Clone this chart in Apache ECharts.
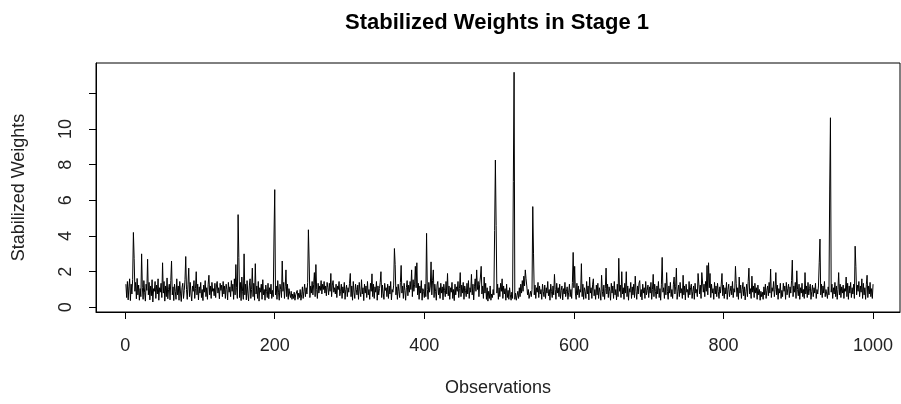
<!DOCTYPE html>
<html>
<head>
<meta charset="utf-8">
<script src="https://cdn.jsdelivr.net/npm/echarts@6/dist/echarts.min.js"></script>
<style>
html,body{margin:0;padding:0;background:#fff;}
#chart{width:901px;height:404px;}
</style>
</head>
<body>
<div id="chart"></div>
<script>
var chartTitle = 'Stabilized Weights in Stage 1';
var xTitle = 'Observations';
var yTitle = 'Stabilized Weights';
var xTicks = [0, 200, 400, 600, 800, 1000];
var xTickLabels = ['0', '200', '400', '600', '800', '1000'];
var yTicks = [0, 2, 4, 6, 8, 10, 12];
var yTickLabels = ['0', '2', '4', '6', '8', '10', ''];

var weights = [
1.3,0.55,1.45,0.42,1.15,1.6,0.38,1.3,0.75,1.55,
4.2,2.75,0.9,1.4,0.48,1.62,0.7,1.25,0.4,1.05,
0.6,3.0,1.1,0.45,1.5,0.85,0.35,1.3,0.95,2.7,
0.7,1.4,0.42,1.2,0.65,1.55,0.3,1.05,0.9,1.45,
0.5,1.25,0.75,1.6,0.4,1.1,0.85,1.35,0.55,2.5,
0.8,1.45,0.35,1.2,0.6,1.65,0.48,1.0,1.3,0.42,
1.5,2.6,0.7,1.15,0.38,1.3,0.9,0.45,1.6,0.7,
1.2,0.4,1.45,0.8,0.33,1.1,1.35,0.5,0.95,1.55,
2.85,1.0,0.45,1.3,2.2,0.6,1.4,0.75,0.36,1.2,
0.9,1.5,0.5,1.05,2.0,0.7,1.3,0.42,1.15,0.8,
1.4,0.55,1.0,0.38,1.25,0.85,1.5,0.6,1.1,0.45,
1.3,1.8,0.7,1.2,0.5,1.4,0.9,1.05,0.65,1.35,
0.55,1.2,1.45,0.8,1.1,0.48,1.35,0.95,1.25,0.6,
1.45,0.75,1.2,0.5,1.3,1.0,0.42,1.4,0.85,1.15,
0.6,1.5,0.9,1.3,0.45,1.6,0.7,2.4,1.1,0.5,
5.2,2.8,0.55,1.4,0.38,1.7,0.9,0.45,3.0,0.7,
1.3,0.42,1.5,0.8,0.36,1.2,1.6,0.5,1.0,2.2,
0.6,1.35,0.4,2.45,0.75,1.2,0.5,1.45,0.35,1.1,
0.85,1.3,0.45,1.55,0.7,1.0,0.4,1.25,0.9,0.55,
1.35,0.48,1.1,0.75,1.3,0.5,0.95,0.6,4.0,6.6,
0.7,1.2,0.45,1.5,0.85,0.4,1.3,1.0,0.55,2.6,
0.9,1.4,0.5,1.15,2.1,0.6,1.3,0.45,1.05,0.75,
0.55,0.9,0.45,0.75,0.5,0.85,0.4,0.7,0.6,0.95,
0.45,0.8,0.55,1.0,0.4,0.7,1.15,0.5,0.9,1.3,
0.6,1.1,0.75,1.4,4.35,2.6,0.55,1.2,0.8,1.45,
0.7,1.3,1.95,0.6,2.4,1.0,0.5,1.35,0.8,1.2,
0.95,1.5,0.75,1.3,1.0,1.45,0.8,1.2,0.65,1.4,
1.1,0.7,1.35,0.9,1.9,0.6,1.25,1.5,0.85,1.1,
0.75,1.3,0.55,1.2,1.0,1.45,0.65,0.9,1.3,0.5,
1.15,0.8,1.4,0.45,1.0,1.25,0.6,1.1,0.85,1.35,
1.9,0.6,1.2,0.4,1.45,0.85,0.5,1.3,1.0,0.7,
1.25,0.45,1.4,0.9,0.6,1.55,0.75,1.1,0.38,1.3,
0.8,1.2,0.55,1.45,0.7,1.0,0.45,1.35,0.9,1.88,
0.6,1.3,0.5,1.15,0.85,1.45,0.4,1.2,0.7,1.05,
1.4,2.0,0.55,1.25,0.8,0.45,1.35,0.95,1.1,0.6,
1.3,0.5,1.2,0.75,1.45,0.42,1.0,0.85,1.25,3.3,
2.4,0.7,1.15,0.45,1.3,0.9,0.55,1.4,2.35,0.8,
1.2,0.5,1.35,0.95,0.4,1.1,1.5,0.65,1.25,0.85,
1.45,1.0,2.1,0.6,1.55,0.9,1.3,2.3,1.1,2.5,
0.7,1.35,0.45,1.2,0.8,1.5,0.4,1.05,0.9,0.55,
1.3,0.6,4.15,1.0,0.45,1.4,0.85,1.2,2.55,0.7,
1.5,2.1,0.55,1.3,0.9,0.4,1.25,1.45,0.7,1.1,
0.5,1.35,0.8,1.15,0.42,1.3,0.95,0.6,1.45,0.75,
1.9,0.65,1.2,0.45,1.1,0.85,1.4,0.5,1.0,0.38,
1.3,0.7,1.15,0.9,1.45,0.55,1.05,1.95,0.6,1.25,
0.8,1.4,0.45,1.2,0.95,0.6,1.35,0.75,1.5,0.5,
1.1,0.85,1.85,0.7,1.3,0.42,1.15,1.6,0.9,2.1,
1.0,1.45,0.6,1.3,1.7,2.3,0.75,1.2,0.5,1.7,
0.8,1.35,0.45,1.1,0.35,0.9,0.5,1.2,0.4,0.75,
0.55,1.0,0.7,4.3,8.26,4.6,0.8,1.3,0.45,1.1,
0.6,1.35,0.9,1.6,0.5,1.2,0.75,1.05,0.4,1.3,
0.55,0.95,0.45,1.1,0.7,0.4,0.85,0.5,7.05,13.18,
0.45,0.8,0.4,0.65,0.9,0.5,1.1,0.6,1.3,0.8,
1.5,0.9,1.75,1.2,2.1,1.6,1.2,0.7,1.0,0.5,
0.45,0.9,0.6,1.0,5.65,3.0,0.7,1.25,0.5,1.1,
0.85,1.4,0.55,1.2,0.75,1.0,0.45,1.3,0.9,0.6,
1.25,0.5,1.1,0.8,1.45,0.65,1.0,0.4,1.3,0.9,
0.55,1.2,0.7,1.85,1.0,0.45,1.35,0.8,1.1,0.6,
1.3,0.5,0.95,1.2,0.42,1.05,0.75,1.4,0.6,0.9,
1.15,0.45,0.85,1.3,0.6,1.0,0.5,1.4,3.08,1.1,
2.3,0.8,0.45,1.35,0.7,1.2,0.55,1.0,0.85,2.45,
0.6,1.3,0.45,1.1,0.9,0.5,1.45,0.75,1.2,0.42,
1.7,0.8,1.1,0.5,1.3,1.6,0.65,1.0,0.45,1.25,
0.7,1.35,0.5,1.1,0.85,0.4,1.8,0.9,0.6,1.25,
0.45,1.05,2.2,0.75,1.3,0.55,1.15,0.9,0.4,1.35,
0.8,1.2,0.5,1.45,0.7,1.0,0.42,1.3,0.6,2.75,
0.9,1.25,0.55,2.0,0.75,1.1,0.45,1.35,0.8,2.0,
0.6,1.2,0.4,1.05,0.85,1.4,0.5,1.15,0.7,1.3,
0.55,1.75,0.9,0.45,1.2,0.75,1.35,1.5,0.6,1.0,
0.42,1.3,0.8,1.1,0.5,1.45,0.7,0.95,1.25,0.55,
1.15,0.8,1.4,0.45,1.0,1.85,0.6,1.3,0.9,0.5,
1.2,0.75,1.45,0.55,1.05,0.4,1.3,2.8,0.85,1.1,
0.5,1.35,0.7,1.95,0.9,0.45,1.2,0.8,1.4,0.6,
1.0,0.5,1.3,1.7,0.75,1.15,2.2,0.45,0.9,1.25,
0.6,1.4,0.8,1.05,0.5,1.8,0.7,1.2,0.42,1.3,
0.85,1.0,0.55,1.45,0.7,1.1,1.3,0.5,0.9,1.2,
0.45,1.35,0.8,1.0,0.6,1.9,1.95,0.75,1.25,0.5,
1.95,1.9,0.85,1.3,0.6,1.45,0.9,2.35,0.7,2.5,
1.1,1.9,0.55,1.3,0.8,1.05,0.45,1.4,0.75,1.2,
0.6,1.35,0.9,0.5,1.15,0.8,1.3,1.9,0.65,1.25,
0.5,1.1,0.75,1.4,0.45,1.0,1.3,0.6,0.9,1.2,
0.7,1.45,0.55,1.05,0.85,2.3,1.35,0.6,1.1,0.45,
1.7,0.8,1.25,0.5,1.0,1.4,0.65,1.15,0.42,0.9,
1.3,0.6,1.45,2.2,0.75,1.05,0.5,1.75,0.85,1.2,
0.55,1.35,0.8,1.1,0.45,1.25,0.7,1.0,0.4,0.9,
0.6,0.85,0.45,1.15,0.7,1.3,0.5,0.95,1.2,0.65,
1.4,0.8,2.15,0.55,1.1,0.9,1.45,0.6,1.0,1.95,
0.7,1.25,0.45,1.05,0.8,1.35,0.5,0.95,0.6,1.35,
0.9,1.2,0.45,1.4,0.7,1.05,1.3,0.55,1.15,0.8,
1.5,2.65,0.6,1.2,0.85,1.4,0.5,2.05,1.0,0.65,
1.3,0.45,1.1,0.8,1.35,0.6,1.0,0.5,1.95,0.75,
1.2,0.55,1.4,0.7,1.05,1.3,0.45,0.9,1.25,0.6,
1.1,0.8,1.35,0.5,1.0,0.75,1.2,2.5,3.83,0.7,
1.3,0.55,1.2,0.8,1.45,0.6,1.0,0.9,0.5,1.15,
0.7,6.58,10.63,0.85,1.3,0.5,1.1,0.75,1.4,0.6,
1.2,0.45,1.0,1.95,0.7,1.3,0.55,1.15,0.8,1.25,
0.5,1.05,0.9,1.7,0.6,1.35,0.45,1.2,0.8,1.4,
0.55,1.1,0.75,1.3,0.5,3.43,2.3,0.7,1.25,0.9,
1.45,0.6,1.2,0.85,1.6,0.5,1.35,0.7,1.1,0.45,
1.3,1.8,0.55,1.2,0.75,1.4,0.6,1.05,0.5,1.3
];

var FONT = '"Liberation Sans", Arial, sans-serif';
var seriesData = weights.map(function (v, i) { return [i + 1, v]; });

var chart = echarts.init(document.getElementById('chart'), null, {renderer: 'canvas'});
chart.setOption({
  animation: false,
  backgroundColor: '#fff',
  title: {
    text: chartTitle,
    left: 492,
    textAlign: 'center',
    top: 7,
    textStyle: {fontFamily: FONT, fontSize: 22, fontWeight: 'bold', color: '#000'}
  },
  grid: {
    left: 96, top: 63, width: 804, height: 249,
    show: true, borderColor: '#000', borderWidth: 1, backgroundColor: 'transparent'
  },
  xAxis: {
    type: 'value',
    min: -39, max: 1036,
    name: xTitle,
    nameLocation: 'middle',
    nameGap: 67,
    nameTextStyle: {fontFamily: FONT, fontSize: 18, color: '#222'},
    axisLine: {show: true, onZero: false, lineStyle: {color: '#000', width: 1}},
    axisTick: {show: true, customValues: xTicks, length: 7, lineStyle: {color: '#000'}},
    axisLabel: {
      show: true, customValues: xTicks, margin: 25, fontFamily: FONT, fontSize: 18, color: '#222',
      formatter: function (v) { var k = xTicks.indexOf(v); return k >= 0 ? xTickLabels[k] : ''; }
    },
    splitLine: {show: false}
  },
  yAxis: {
    type: 'value',
    min: -0.26, max: 13.7,
    name: yTitle,
    nameLocation: 'middle',
    nameRotate: 90,
    nameGap: 68,
    nameTextStyle: {fontFamily: FONT, fontSize: 18, color: '#222'},
    axisLine: {show: true, onZero: false, lineStyle: {color: '#000', width: 1}},
    axisTick: {show: true, customValues: yTicks, length: 7, lineStyle: {color: '#000'}},
    axisLabel: {
      show: true, customValues: yTicks, rotate: 90, margin: 21,
      fontFamily: FONT, fontSize: 18, color: '#222',
      formatter: function (v) { var k = yTicks.indexOf(v); return k >= 0 ? yTickLabels[k] : ''; }
    },
    splitLine: {show: false}
  },
  series: [{
    type: 'line',
    data: seriesData,
    showSymbol: false,
    symbol: 'none',
    lineStyle: {color: '#000', width: 1},
    silent: true
  }]
});
</script>
</body>
</html>
